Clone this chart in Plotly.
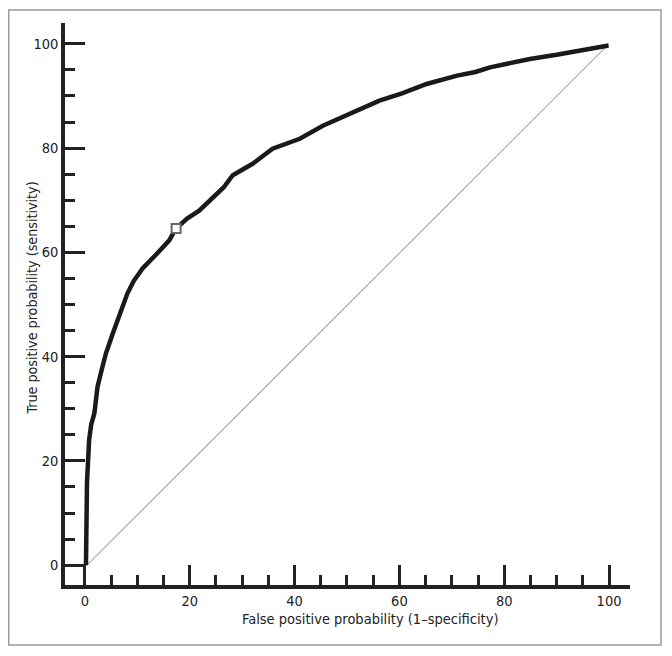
import plotly.graph_objects as go

# curva ROC (valores em %)
fpr = [0.2, 0.2, 0.4, 0.4, 0.8, 1.2, 1.8, 2.1, 2.4, 3.2, 4.0, 5.3, 6.5, 7.2,
       8.1, 9.3, 11.0, 13.5, 16.1, 17.3, 19.5, 21.8, 24.4, 26.5, 28.2, 30.0,
       32.0, 35.8, 41.0, 45.4, 50.5, 56.2, 60.5, 65.2, 71.0, 74.5, 77.3, 84.9,
       90.0, 94.5, 97.0, 99.9]
tpr = [0, 7.3, 8.0, 16.0, 24.0, 27.0, 29.1, 32.0, 34.2, 37.5, 40.6, 44.4,
       47.5, 49.5, 52.1, 54.5, 56.9, 59.5, 62.3, 64.5, 66.5, 68.0, 70.6, 72.5,
       74.8, 75.8, 77.0, 79.9, 81.8, 84.3, 86.6, 89.1, 90.5, 92.3, 93.9, 94.6,
       95.5, 97.1, 97.9, 98.7, 99.2, 99.7]

# ponto de corte marcado
corte_x = [17.4]
corte_y = [64.6]

# linha de referencia
diag_x = [0.4, 100]
diag_y = [0, 100]

ticks = [0, 20, 40, 60, 80, 100]

fonte = "DejaVu Sans Condensed, Roboto Condensed, Roboto, sans-serif"
cor = "#222222"

fig = go.Figure()
fig.add_trace(go.Scatter(x=diag_x, y=diag_y, mode="lines",
                         line=dict(color="#aaaaaa", width=1.2), hoverinfo="skip"))
fig.add_trace(go.Scatter(x=fpr, y=tpr, mode="lines",
                         line=dict(color="#1a1a1a", width=4.5)))
fig.add_trace(go.Scatter(x=corte_x, y=corte_y, mode="markers",
                         marker=dict(symbol="square", size=9, color="white",
                                     line=dict(color="#666666", width=2))))

eixo = dict(
    showgrid=False, zeroline=False, showline=True, linecolor=cor, linewidth=3.5,
    automargin=False,
    ticks="inside", ticklen=20, tickwidth=3, tickcolor=cor,
    tickvals=ticks, tickfont=dict(family=fonte, size=14.5, color=cor),
    minor=dict(dtick=5, tick0=0, ticks="inside", ticklen=10, tickwidth=3, tickcolor=cor),
)

fig.update_xaxes(range=[-3.8, 104], **eixo)
fig.update_yaxes(range=[-3.8, 104], **eixo)

# a pagina tem 8px de margem no body, por isso a figura e um pouco menor
fig.update_layout(
    width=664, height=648,
    margin=dict(l=57, r=42, t=15, b=71, autoexpand=False),
    paper_bgcolor="white", plot_bgcolor="white",
    showlegend=False,
    font=dict(family=fonte, color=cor),
    shapes=[dict(type="rect", xref="paper", yref="paper",
                 x0=-0.0996, x1=1.0549, y0=-0.1068, y1=1.0231,
                 line=dict(color="#999999", width=1.5), layer="below")],
    annotations=[
        dict(text="False positive probability (1\u2013specificity)", xref="paper", yref="paper",
             x=(370 - 65) / 565, y=(585 - 619) / 562, showarrow=False,
             xanchor="center", yanchor="middle",
             font=dict(family=fonte, size=14.5, color=cor)),
        dict(text="True positive probability (sensitivity)", xref="paper", yref="paper",
             x=(31.5 - 65) / 565, y=(585 - 298) / 562, showarrow=False, textangle=-90,
             xanchor="center", yanchor="middle",
             font=dict(family=fonte, size=14.2, color=cor)),
    ],
)

fig.write_html("out.html")
